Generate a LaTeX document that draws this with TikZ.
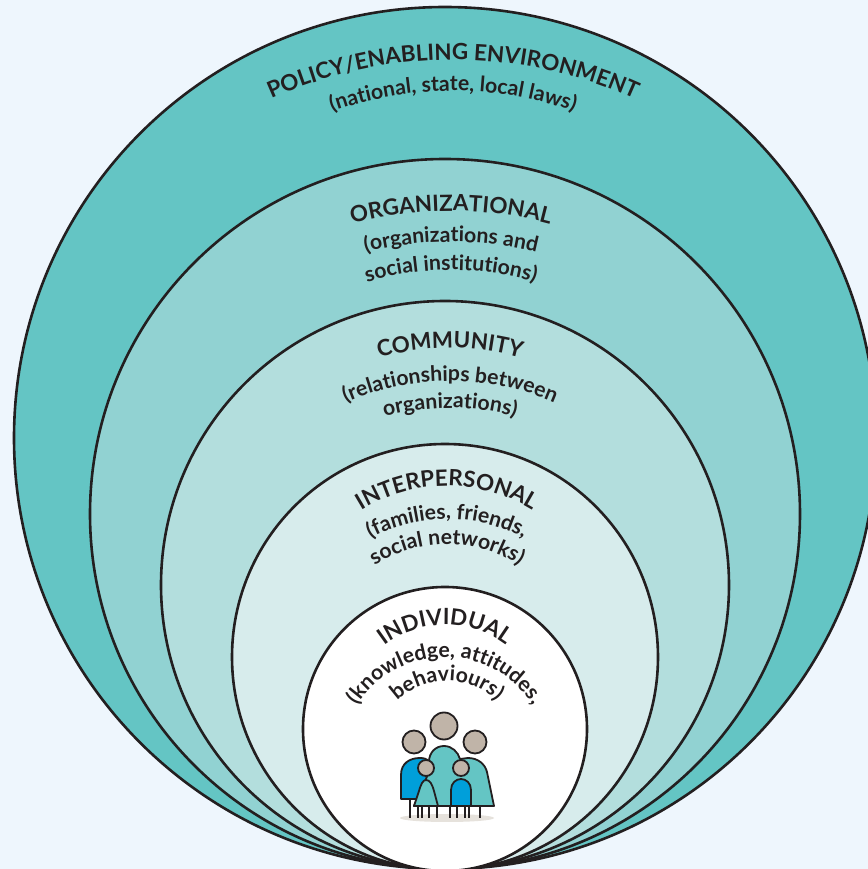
\documentclass[tikz,border=0pt]{standalone}
\usepackage{fontspec}
\setmainfont{Lato}
\usetikzlibrary{decorations.text}
\definecolor{pagebg}{HTML}{EEF6FD}
\definecolor{policyfill}{HTML}{64C5C4}
\definecolor{orgfill}{HTML}{91D2D2}
\definecolor{commfill}{HTML}{B3DEDD}
\definecolor{interfill}{HTML}{D7ECEC}
\definecolor{ink}{HTML}{231F20}
\definecolor{headfill}{HTML}{C0B4A8}
\definecolor{bodyblue}{HTML}{009FDA}
\definecolor{groundfill}{HTML}{E6E2DC}
\newcommand{\titlefont}{\fontsize{11.2}{13}\bfseries\color{ink}}
\newcommand{\subfont}{\fontsize{10.6}{12}\bfseries\color{ink}}
\newcommand{\arclabel}[5]{%
  \path[decorate, decoration={text along path, text align=center, text={|#4|#5}}]
    (#1,#2) ++(150:#3) arc (150:30:#3);}
\begin{document}
\begin{tikzpicture}[x=.5pt,y=.5pt,
    ring/.style = {shape=circle, draw=ink, line width=1.3pt, inner sep=0pt},
    head/.style = {shape=circle, draw=ink, line width=.9pt, inner sep=0pt, fill=headfill},
    body/.style = {draw=ink, line width=.9pt, line join=round},
    leg/.style = {draw=ink, line width=.9pt}]

  \fill[pagebg] (0,0) rectangle (868,869);
  \useasboundingbox (0,0) rectangle (868,869);

  % rings, outer to inner
  \node[ring, fill=policyfill, minimum size=431pt] (policy) at (445,431) {};
  \node[ring, fill=orgfill, minimum size=355pt] (organizational) at (445,355) {};
  \node[ring, fill=commfill, minimum size=284pt] (community) at (445,284) {};
  \node[ring, fill=interfill, minimum size=213pt] (interpersonal) at (445,212) {};
  \node[ring, fill=white, minimum size=142pt] (individual) at (445,140) {};

  % labels
  \arclabel{453}{367}{442}{\titlefont}{POLICY/ENABLING ENVIRONMENT}
  \arclabel{453}{416}{362}{\subfont}{(national, state, local laws)}
  \arclabel{451}{278}{380}{\titlefont}{ORGANIZATIONAL}
  \arclabel{451}{267}{360}{\subfont}{(organizations and}
  \arclabel{451}{299}{300}{\subfont}{social institutions)}
  \arclabel{450}{261}{260}{\titlefont}{COMMUNITY}
  \arclabel{450}{228}{260}{\subfont}{(relationships between}
  \arclabel{450}{211}{250}{\subfont}{organizations)}
  \arclabel{447}{220}{163}{\titlefont}{INTERPERSONAL}
  \arclabel{447}{188}{162}{\subfont}{(families, friends,}
  \arclabel{447}{193}{132}{\subfont}{social networks)}
  \arclabel{445}{144}{100}{\titlefont}{INDIVIDUAL}
  \arclabel{445}{108}{104}{\subfont}{(knowledge, attitudes,}
  \arclabel{447}{116}{72}{\subfont}{behaviours)}

  % family
  \begin{scope}[shift={(0,869)},yscale=-1]
    \fill[groundfill] (447,818) ellipse (47 and 4);
    \foreach \legx in {410,418,422,429,437,450,457,465,469,480}
      \draw[leg] (\legx,798) -- (\legx,818);
    \draw[body, fill=bodyblue] (401,799) -- (401,775) .. controls (401,763) and (410,758) .. (420,758)
      .. controls (428,758) and (432,762) .. (434,770) -- (434,799) -- cycle;
    \draw[body, fill=policyfill] (414,806) -- (429,772) -- (429,762) .. controls (429,752) and (436,746) .. (444,746)
      .. controls (452,746) and (458,752) .. (460,759) -- (468,758)
      .. controls (478,758) and (485,764) .. (487,772) -- (494,806) -- cycle;
    \draw[body, fill=policyfill] (414,806) -- (419,791) .. controls (421,784) and (423,780) .. (426,780)
      .. controls (430,780) and (432,784) .. (434,791) -- (438,806) -- cycle;
    \draw[body, fill=bodyblue] (451,806) -- (451,790) .. controls (451,783) and (456,779) .. (461,779)
      .. controls (466,779) and (471,783) .. (471,790) -- (471,806) -- cycle;
    \node[head, minimum size=13.5pt] (headtop) at (444,726) {};
    \node[head, minimum size=11.5pt] (headleft) at (414,742) {};
    \node[head, minimum size=11.5pt] (headright) at (475,742) {};
    \node[head, minimum size=8pt] (kidleft) at (426,768) {};
    \node[head, minimum size=8pt] (kidright) at (461,768) {};
  \end{scope}
\end{tikzpicture}
\end{document}
